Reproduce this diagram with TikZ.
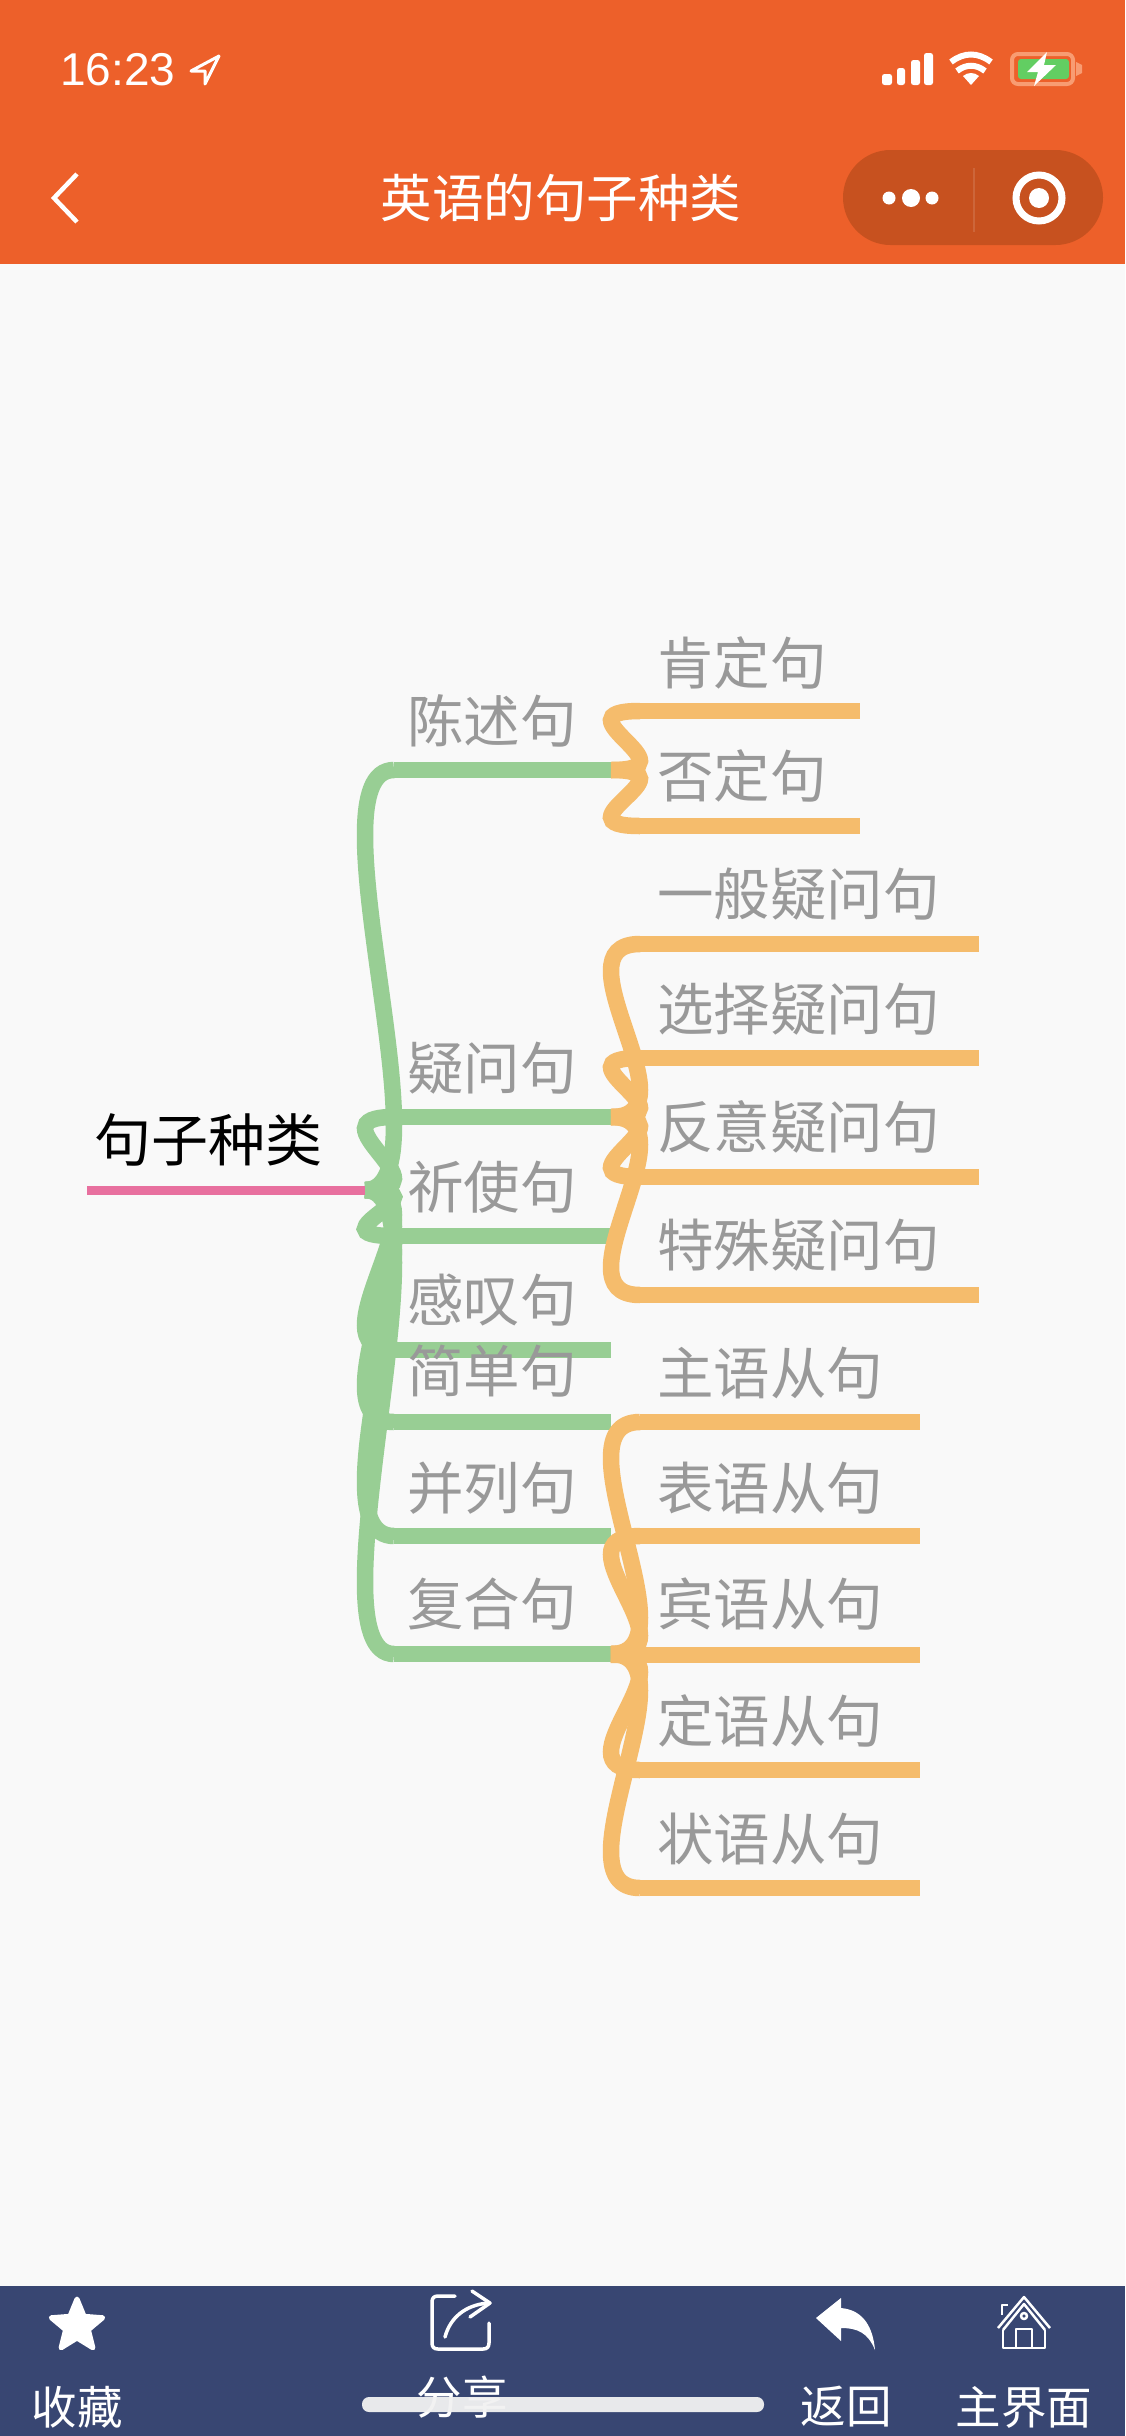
\documentclass[tikz,border=0pt]{standalone}
\usepackage{fontspec}
\setmainfont{Liberation Sans}
\newfontfamily\cjk{Noto Sans CJK SC}
\usetikzlibrary{calc}
\definecolor{hdr}{HTML}{ED602A}
\definecolor{capsule}{HTML}{C7511F}
\definecolor{pagebg}{HTML}{F9F9F9}
\definecolor{barbg}{HTML}{384672}
\definecolor{gline}{HTML}{98CE94}
\definecolor{oline}{HTML}{F5BC6C}
\definecolor{pline}{HTML}{E8709F}
\definecolor{lbl}{HTML}{999999}
\definecolor{battedge}{HTML}{F89C72}
\definecolor{battfill}{HTML}{62CE62}
\newcommand{\fs}[1]{\fontsize{#1}{#1}\selectfont}
\newcommand{\bezbranch}[3]{\draw[#1] (#2) .. controls ($(#2)+(87,0)$) and ($(#3)+(-87,0)$) .. (#3);}
\tikzset{
  greenline/.style={draw=gline,line width=16.5pt,line cap=butt},
  orangeline/.style={draw=oline,line width=16.5pt,line cap=butt},
  branchlbl/.style={anchor=west,inner sep=0pt,text=lbl,font=\cjk\fs{56.5}},
  rootlbl/.style={anchor=west,inner sep=0pt,text=black,font=\cjk\fs{57}},
  barlbl/.style={anchor=center,inner sep=0pt,text=white,font=\cjk\fs{45.5}},
  iconline/.style={draw=white,line width=3.5pt,line cap=round,line join=round},
}
\begin{document}
\begin{tikzpicture}[x=1pt,y=-1pt]
\useasboundingbox (0,0) rectangle (1125,2436);
\fill[pagebg] (0,0) rectangle (1125,2436);
% header
\fill[hdr] (0,0) rectangle (1125,264);
\node[anchor=base west,inner sep=0pt,text=white,font=\fs{46}] (clock) at (60,85) {16:23};
\draw[white,line width=3pt,line join=round] (191,71) -- (219,56) -- (205,84) -- (205,71) -- cycle;
\foreach \xa/\xb/\yt in {882/892/74,897/905/68,911/920/60,924/933/53}
  \fill[white,rounded corners=2.5pt] (\xa,\yt) rectangle (\xb,85);
% wifi
\fill[white] (971,85) -- (963,76) .. controls (968,72) and (974,72) .. (979,76) -- cycle;
\draw[white,line width=6pt] (957,71) .. controls (966,64) and (976,64) .. (985,71);
\draw[white,line width=6pt] (951,62) .. controls (964,52) and (978,52) .. (991,62);
% battery
\draw[battedge,line width=4pt,rounded corners=6pt] (1012,54) rectangle (1073,84);
\fill[battedge] (1076,62) -- (1082,65) -- (1082,73) -- (1076,76) -- cycle;
\fill[battfill,rounded corners=3pt] (1018,59) rectangle (1069,79);
\fill[white] (1047,52) -- (1027,72) -- (1038,72) -- (1034,86) -- (1056,65) -- (1044,65) -- cycle;
% nav
\draw[white,line width=4.5pt,line join=miter] (77,174) -- (54,198) -- (77,222);
\node[anchor=center,inner sep=0pt,text=white,font=\cjk\fs{51.5}] (title) at (561,198) {英语的句子种类};
\fill[capsule] (890.5,150) -- (1055.5,150) arc[start angle=-90,end angle=90,radius=47.5] -- (890.5,245) arc[start angle=90,end angle=270,radius=47.5] -- cycle;
\draw[white,opacity=.12,line width=1.5pt] (974,168) -- (974,232);
\fill[white] (889,198) circle (6.5) (911,198) circle (9) (932,198) circle (6.5);
\draw[white,line width=7pt] (1039,198) circle (23);
\fill[white] (1039,198) circle (10);
% named points of the map
\coordinate (rs) at (87,1190);
\coordinate (gs) at (365,1190);
\foreach \n/\y in {a/770,b/1117,c/1236,d/1350,e/1422,f/1536,g/1654}{
  \coordinate (g\n) at (394,\y);
  \coordinate (ge\n) at (611,\y);
}
\coordinate (gsb) at (611,770);
\coordinate (gsc) at (611,1117);
\coordinate (gsd) at (611,1654);
\foreach \n/\y in {a/711,b/826}{
  \coordinate (oa\n) at (640,\y);
  \coordinate (oae\n) at (860,\y);
}
\foreach \n/\y in {a/944,b/1058,c/1177,d/1295}{
  \coordinate (ob\n) at (640,\y);
  \coordinate (obe\n) at (979,\y);
}
\foreach \n/\y in {a/1422,b/1536,c/1655,d/1770,e/1888}{
  \coordinate (oc\n) at (640,\y);
  \coordinate (oce\n) at (920,\y);
}
% green branches
\foreach \n in {a,b,c,d,e,f,g}{
  \bezbranch{greenline}{gs}{g\n}
  \draw[greenline] (g\n) -- (ge\n);
}
% pink stem
\draw[draw=pline,line width=9pt] (rs) -- (gs);
% orange branches
\foreach \n in {a,b}{
  \bezbranch{orangeline}{gsb}{oa\n}
  \draw[orangeline] (oa\n) -- (oae\n);
}
\foreach \n in {a,b,c,d}{
  \bezbranch{orangeline}{gsc}{ob\n}
  \draw[orangeline] (ob\n) -- (obe\n);
}
\foreach \n in {a,b,c,d,e}{
  \bezbranch{orangeline}{gsd}{oc\n}
  \draw[orangeline] (oc\n) -- (oce\n);
}
% labels
\node[rootlbl] (root) at (94,1140) {句子种类};
\node[branchlbl] (l1) at (407,721) {陈述句};
\node[branchlbl] (l2) at (407,1068) {疑问句};
\node[branchlbl] (l3) at (407,1187) {祈使句};
\node[branchlbl] (l4) at (407,1300) {感叹句};
\node[branchlbl] (l5) at (407,1371) {简单句};
\node[branchlbl] (l6) at (407,1488) {并列句};
\node[branchlbl] (l7) at (407,1604) {复合句};
\node[branchlbl] (m1) at (657,663) {肯定句};
\node[branchlbl] (m2) at (657,776) {否定句};
\node[branchlbl] (m3) at (657,894) {一般疑问句};
\node[branchlbl] (m4) at (657,1009) {选择疑问句};
\node[branchlbl] (m5) at (657,1127) {反意疑问句};
\node[branchlbl] (m6) at (657,1245) {特殊疑问句};
\node[branchlbl] (m7) at (657,1373) {主语从句};
\node[branchlbl] (m8) at (657,1488) {表语从句};
\node[branchlbl] (m9) at (657,1604) {宾语从句};
\node[branchlbl] (m10) at (657,1721) {定语从句};
\node[branchlbl] (m11) at (657,1839) {状语从句};
% bottom bar
\fill[barbg] (0,2286) rectangle (1125,2436);
\fill[white,draw=white,line width=5pt,line join=round] (77,2299) -- (84.1,2316.3) -- (102.7,2317.7) -- (88.4,2329.7) -- (92.9,2347.8) -- (77,2338) -- (61.1,2347.8) -- (65.6,2329.7) -- (51.3,2317.7) -- (69.9,2316.3) -- cycle;
\draw[iconline] (455,2296) -- (438,2296) .. controls (434,2296) and (432,2298) .. (432,2302) -- (432,2343) .. controls (432,2347) and (434,2349) .. (438,2349) -- (483,2349) .. controls (487,2349) and (489,2347) .. (489,2343) -- (489,2323);
\draw[iconline] (472,2291) -- (490,2303) -- (470,2317);
\draw[iconline] (488,2303) .. controls (465,2305) and (450,2318) .. (445,2337);
\fill[white] (816,2318) -- (841,2298) -- (841,2308) .. controls (864,2310) and (873,2328) .. (875,2350) .. controls (868,2333) and (858,2328) .. (841,2328) -- (841,2341) -- cycle;
\begin{scope}[draw=white,line width=2.5pt,line join=round]
\draw (998,2328) -- (1024,2297) -- (1050,2328);
\draw (1003,2330) -- (1024,2304) -- (1045,2330);
\draw (1003,2330) -- (1003,2348) -- (1045,2348) -- (1045,2330);
\draw (1016,2348) -- (1016,2329) -- (1032,2329) -- (1032,2348);
\draw (1024,2316) circle (3);
\draw (1002,2315) -- (1002,2305) -- (1008,2305);
\end{scope}
\node[barlbl] (sc) at (77,2407) {收藏};
\node[barlbl] (fx) at (462,2397) {分享};
\node[barlbl] (fh) at (846,2407) {返回};
\node[barlbl] (zj) at (1024,2407) {主界面};
\fill[white!90!gray,fill opacity=.95,rounded corners=7pt] (362,2397) rectangle (764,2412);
\end{tikzpicture}
\end{document}
